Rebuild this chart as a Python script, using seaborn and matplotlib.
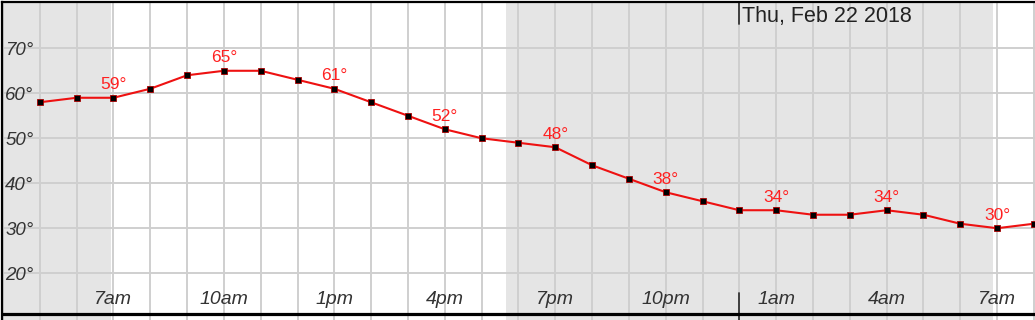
import matplotlib
matplotlib.use("Agg")
import matplotlib.pyplot as plt
import seaborn as sns
import pandas as pd

# ---- data ----
hours = list(range(5, 33))  # hours since midnight Wed Feb 21 2018
temps = [58, 59, 59, 61, 64, 65, 65, 63, 61, 58, 55, 52, 50, 49,
         48, 44, 41, 38, 36, 34, 34, 33, 33, 34, 33, 31, 30, 31]
tick_hours = [7, 10, 13, 16, 19, 22, 25, 28, 31]
tick_labels = ["7am", "10am", "1pm", "4pm", "7pm", "10pm", "1am", "4am", "7am"]
y_ticks = [20, 30, 40, 50, 60, 70]
y_labels = ["20°", "30°", "40°", "50°", "60°", "70°"]
label_hours = [7, 10, 13, 16, 19, 22, 25, 28, 31]
night_spans = [(0, 6.93), (17.67, 30.89)]
midnight = 24
date_label = "Thu, Feb 22 2018"

df = pd.DataFrame({"hour": hours, "temp": temps})

sns.set_style("white")
plt.rcParams["font.family"] = ["Liberation Sans", "DejaVu Sans"]

fig = plt.figure(figsize=(10.35, 3.2), dpi=100)
ax = fig.add_axes([1.5 / 1035, 0, 1 - 1.5 / 1035, 1 - 1.5 / 320])

xmin, xmax = 3.96, 32.03
ymin, ymax = 9.6, 80.4
ax.set_xlim(xmin, xmax)
ax.set_ylim(ymin, ymax)

# night shading
for a, b in night_spans:
    ax.axvspan(max(a, xmin), b, color="#e5e5e5", lw=0, zorder=0)

# grid
for h in range(4, 33):
    ax.axvline(h, color="#cfcfcf", lw=1.4, zorder=1)
for t in y_ticks:
    ax.axhline(t, color="#cfcfcf", lw=1.4, zorder=1)

# midnight marker
ax.axvline(midnight, ymin=0.928, ymax=1, color="#333333", lw=1.3, zorder=2)
ax.axvline(midnight, ymin=0, ymax=0.085, color="#333333", lw=1.3, zorder=2)
ax.text(midnight + 0.08, 77.0, date_label, fontsize=15.5, color="#222222",
        ha="left", va="center", zorder=5)

# bottom baseline
ax.axhline(10.9, color="black", lw=2.3, zorder=4)

# line
sns.lineplot(data=df, x="hour", y="temp", ax=ax, color="#ee1111", lw=1.5,
             marker="s", markersize=4.5, markerfacecolor="black",
             markeredgecolor="#aa0000", markeredgewidth=0.6, zorder=3)

# value labels
for h, t in zip(hours, temps):
    if h in label_hours:
        ax.annotate(f"{t}°", (h, t), xytext=(0, 13), textcoords="offset pixels",
                    ha="center", va="center", fontsize=12.5, color="#ff2020", zorder=5)

# axis labels inside plot
for t, lab in zip(y_ticks, y_labels):
    ax.text(xmin + 0.1, t - 0.4, lab, fontsize=13.5, style="italic", color="#333333",
            ha="left", va="center", zorder=5)
for h, lab in zip(tick_hours, tick_labels):
    ax.text(h, 14.1, lab, fontsize=14, style="italic", color="#333333",
            ha="center", va="center", zorder=5)

ax.set_xticks([])
ax.set_yticks([])
ax.set_xlabel("")
ax.set_ylabel("")
for side in ["right", "bottom"]:
    ax.spines[side].set_visible(False)
for side in ["left", "top"]:
    ax.spines[side].set_visible(True)
    ax.spines[side].set_color("black")
    ax.spines[side].set_linewidth(1.6)

fig.savefig("out.png", dpi=100)
